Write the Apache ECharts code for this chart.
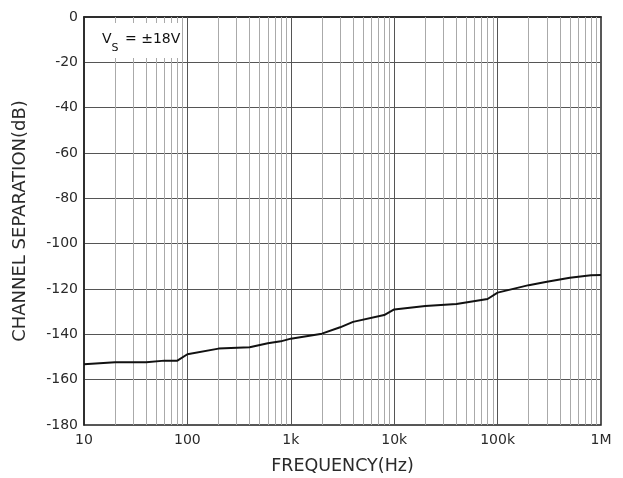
<!DOCTYPE html>
<html><head><meta charset="utf-8">
<script src="https://cdn.jsdelivr.net/npm/echarts@6/dist/echarts.min.js"></script>
<style>html,body{margin:0;padding:0;background:#fff}#c{width:623px;height:478px}</style>
</head><body><div id="c"></div>
<script>
const freqs = [10, 20, 40, 60, 80, 100, 200, 400, 600, 800, 1000, 2000, 3000, 4000, 8000, 10000, 20000, 40000, 80000, 100000, 200000, 300000, 500000, 800000, 1000000];
const sepDb = [-153.2, -152.3, -152.3, -151.6, -151.6, -148.8, -146.3, -145.7, -143.9, -143.1, -141.9, -139.7, -136.9, -134.5, -131.5, -129.0, -127.5, -126.6, -124.4, -121.6, -118.3, -116.8, -115.0, -113.9, -113.8];
const xTickLabels = {10:'10', 100:'100', 1000:'1k', 10000:'10k', 100000:'100k', 1000000:'1M'};
const yMin = -180, yMax = 0, yStep = 20;

const minorLines = [];
const decadeLines = [];
for (let d = 10; d < 1000000; d *= 10) {
  for (let m = 2; m <= 9; m++) minorLines.push({xAxis: d * m});
  if (d > 10) decadeLines.push({xAxis: d});
}
const font = '"DejaVu Sans", "Noto Sans", sans-serif';
const txt = '#2a2a2a';
const chart = echarts.init(document.getElementById('c'), null, {renderer: 'canvas'});
chart.setOption({
  animation: false,
  textStyle: {fontFamily: font},
  grid: {left: 84, right: 22, top: 17, bottom: 53, containLabel: false, outerBoundsMode: 'none',
    show: true, borderColor: '#222', borderWidth: 1.5, backgroundColor: 'transparent'},
  xAxis: {
    type: 'log', logBase: 10, min: 10, max: 1000000,
    axisLine: {show: true, lineStyle: {color: '#222', width: 1.5}},
    axisTick: {show: false},
    splitLine: {show: false},
    axisLabel: {color: txt, fontSize: 14, fontFamily: font, margin: 8,
      formatter: v => xTickLabels[Math.round(v)] || ''},
    name: 'FREQUENCY(Hz)', nameLocation: 'middle', nameGap: 32,
    nameTextStyle: {color: txt, fontSize: 17.5, fontFamily: font}
  },
  yAxis: {
    type: 'value', min: yMin, max: yMax, interval: yStep,
    axisLine: {show: true, lineStyle: {color: '#222', width: 1.5}},
    axisTick: {show: false},
    splitLine: {show: true, lineStyle: {color: '#555', width: 1}},
    axisLabel: {color: txt, fontSize: 14, fontFamily: font, margin: 6},
    name: 'CHANNEL SEPARATION(dB)', nameLocation: 'middle', nameGap: 55,
    nameTextStyle: {color: txt, fontSize: 18, fontFamily: font}
  },
  series: [
    {type: 'line', data: [], silent: true,
      markLine: {silent: true, symbol: 'none', label: {show: false}, animation: false,
        lineStyle: {color: '#aaa', width: 1, type: 'solid'}, data: minorLines}},
    {type: 'line', data: [], silent: true,
      markLine: {silent: true, symbol: 'none', label: {show: false}, animation: false,
        lineStyle: {color: '#555', width: 1, type: 'solid'}, data: decadeLines}},
    {type: 'line', z: 5, showSymbol: false, symbol: 'none',
      lineStyle: {color: '#111', width: 2},
      data: freqs.map((f, i) => [f, sepDb[i]])}
  ],
  graphic: [
    {type: 'rect', shape: {x: 97, y: 23, width: 85, height: 35}, style: {fill: '#fff'}, z: 10},
    {type: 'text', x: 102, y: 32, z: 11, style: {
      text: '{v|V}{s|S}{v| = ±18V}', font: '14px ' + font,
      rich: {v: {fontSize: 14, fontFamily: font, fill: '#111', verticalAlign: 'top'},
             s: {fontSize: 11, fontFamily: font, fill: '#111', padding: [11, 2, 0, 0]}}
    }}
  ]
});
</script></body></html>
